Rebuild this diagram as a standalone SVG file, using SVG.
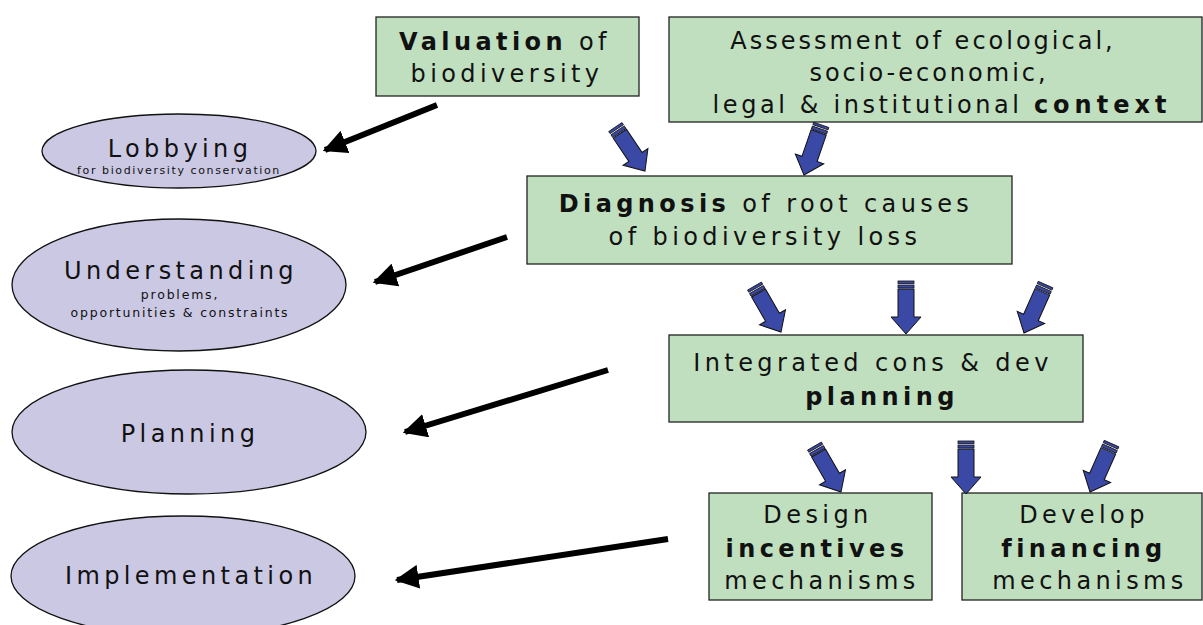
<svg xmlns="http://www.w3.org/2000/svg" xmlns:xlink="http://www.w3.org/1999/xlink" width="1203" height="625" viewBox="0 0 1203 625">
<style>
.box{fill:#c0dfbf;stroke:#222;stroke-width:1.3}
.ell{fill:#cbc8e4;stroke:#111;stroke-width:1.3}
.t{font-family:"DejaVu Sans",Verdana,sans-serif;font-size:24px;letter-spacing:4.4px;fill:#111;text-anchor:middle}
.a{letter-spacing:3px}
.s{font-family:"DejaVu Sans",Verdana,sans-serif;font-size:12.5px;letter-spacing:1.8px;fill:#111;text-anchor:middle}
.xs{font-size:11px;letter-spacing:1.6px}
.b{font-weight:bold}
.blk{stroke:#000;stroke-width:6;fill:none}
</style>
<defs>
<g id="ba">
<path d="M-8,-45 H8 V-17 H15 L0,0 L-15,-17 H-8 Z" fill="#3b49a6" stroke="#111" stroke-width="1"/>
<rect x="-8" y="-53" width="16" height="2.5" fill="#3b49a6" stroke="#111" stroke-width="0.8"/>
<rect x="-8" y="-49" width="16" height="3" fill="#3b49a6" stroke="#111" stroke-width="0.8"/>
</g>
<marker id="ah" viewBox="0 0 10 10" refX="9" refY="5" markerWidth="4" markerHeight="4" orient="auto" markerUnits="strokeWidth">
<path d="M0,0 L10,5 L0,10 Z" fill="#000"/>
</marker>
</defs>

<g id="n-valuation">
<rect class="box" x="376" y="17" width="263" height="79"/>
<text class="t" x="505" y="50"><tspan class="b">Valuation</tspan> of</text>
<text class="t" x="507" y="82">biodiversity</text>
</g>
<g id="n-assessment">
<rect class="box" x="669" y="17" width="533" height="105"/>
<text class="t a" x="923" y="49">Assessment of ecological,</text>
<text class="t a" x="929" y="81">socio-economic,</text>
<text class="t a" x="942" y="113" style="letter-spacing:3.6px">legal &amp; institutional <tspan class="b" style="letter-spacing:5px">context</tspan></text>
</g>
<g id="n-diagnosis">
<rect class="box" x="527" y="176" width="485" height="88"/>
<text class="t" x="766" y="212"><tspan class="b">Diagnosis</tspan> of root causes</text>
<text class="t" x="765" y="245">of biodiversity loss</text>
</g>
<g id="n-planning">
<rect class="box" x="669" y="335" width="414" height="87"/>
<text class="t" x="873" y="371">Integrated cons &amp; dev</text>
<text class="t b" x="882" y="405">planning</text>
</g>
<g id="n-incentives">
<rect class="box" x="709" y="493" width="223" height="107"/>
<text class="t" x="818" y="523">Design</text>
<text class="t b" x="817" y="557">incentives</text>
<text class="t" x="822" y="589">mechanisms</text>
</g>
<g id="n-financing">
<rect class="box" x="962" y="493" width="240" height="107"/>
<text class="t" x="1084" y="523">Develop</text>
<text class="t b" x="1084" y="557">financing</text>
<text class="t" x="1090" y="589">mechanisms</text>
</g>

<g id="n-lobbying">
<ellipse class="ell" cx="179" cy="151" rx="137" ry="37"/>
<text class="t" x="180" y="157">Lobbying</text>
<text class="s xs" x="179" y="174">for biodiversity conservation</text>
</g>
<g id="n-understanding">
<ellipse class="ell" cx="179" cy="285" rx="167" ry="66"/>
<text class="t" x="181" y="279">Understanding</text>
<text class="s" x="180" y="299">problems,</text>
<text class="s" x="180" y="317">opportunities &amp; constraints</text>
</g>
<g id="n-planning-e">
<ellipse class="ell" cx="189" cy="432" rx="177" ry="62"/>
<text class="t" x="190" y="442">Planning</text>
</g>
<g id="n-implementation">
<ellipse class="ell" cx="183" cy="576" rx="172" ry="60"/>
<text class="t" x="191" y="584">Implementation</text>
</g>

<g id="connectors">
<line class="blk" x1="437" y1="105" x2="325" y2="150" marker-end="url(#ah)"/>
<line class="blk" x1="507" y1="237" x2="375" y2="282" marker-end="url(#ah)"/>
<line class="blk" x1="608" y1="370" x2="405" y2="432" marker-end="url(#ah)"/>
<line class="blk" x1="668" y1="539" x2="397" y2="580" marker-end="url(#ah)"/>
<use xlink:href="#ba" transform="translate(645,171) rotate(-34)"/>
<use xlink:href="#ba" transform="translate(804,175) rotate(19)"/>
<use xlink:href="#ba" transform="translate(781,332) rotate(-30)"/>
<use xlink:href="#ba" transform="translate(906,334)"/>
<use xlink:href="#ba" transform="translate(1024,333) rotate(24)"/>
<use xlink:href="#ba" transform="translate(841,492) rotate(-30)"/>
<use xlink:href="#ba" transform="translate(966,494)"/>
<use xlink:href="#ba" transform="translate(1090,492) rotate(24)"/>
</g>
</svg>
